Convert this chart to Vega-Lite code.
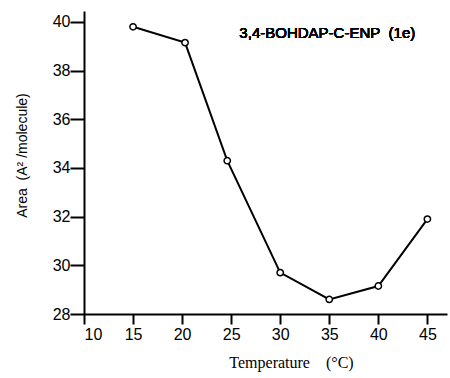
{
  "$schema": "https://vega.github.io/schema/vega-lite/v6.json",
  "width": 363,
  "height": 303,
  "autosize": {"type": "none"},
  "padding": {"left": 84, "top": 11, "right": 3, "bottom": 64},
  "background": "white",
  "config": {
    "view": {"stroke": null},
    "axis": {
      "grid": false,
      "domainColor": "black",
      "domainWidth": 2,
      "tickColor": "black",
      "tickWidth": 2,
      "labelColor": "black",
      "labelFont": "Liberation Sans",
      "labelFontSize": 16,
      "titleColor": "black"
    }
  },
  "data": {
    "values": [
      {"temp": 15, "area": 39.8},
      {"temp": 20.3, "area": 39.15},
      {"temp": 24.6, "area": 34.3},
      {"temp": 30, "area": 29.7},
      {"temp": 35, "area": 28.6},
      {"temp": 40, "area": 29.15},
      {"temp": 45, "area": 31.9}
    ]
  },
  "encoding": {
    "x": {
      "field": "temp",
      "type": "quantitative",
      "scale": {"domain": [10, 47], "nice": false, "zero": false},
      "axis": {
        "values": [10, 15, 20, 25, 30, 35, 40, 45],
        "tickSize": 10,
        "labelPadding": 2,
        "title": "Temperature\u00a0\u00a0\u00a0\u00a0(°C)",
        "titleFont": "Liberation Serif",
        "titleFontSize": 16,
        "titleFontWeight": "normal",
        "titleX": 207,
        "titleY": 48,
        "titleBaseline": "middle",
        "titleAnchor": "middle"
      }
    },
    "y": {
      "field": "area",
      "type": "quantitative",
      "scale": {"domain": [28, 40.45], "nice": false, "zero": false},
      "axis": {
        "values": [28, 30, 32, 34, 36, 38, 40],
        "tickSize": 14,
        "labelPadding": 0,
        "title": "Area\u00a0\u00a0(A² /molecule)",
        "titleFont": "Liberation Sans",
        "titleFontSize": 14,
        "titleFontWeight": "normal",
        "titleX": -62,
        "titleY": 144,
        "titleBaseline": "middle",
        "titleAnchor": "middle"
      }
    }
  },
  "layer": [
    {
      "mark": {"type": "line", "color": "black", "strokeWidth": 2}
    },
    {
      "mark": {"type": "point", "shape": "circle", "filled": true, "fill": "white", "stroke": "black", "strokeWidth": 1.5, "size": 40, "opacity": 1}
    },
    {
      "mark": {"type": "text", "text": "3,4-BOHDAP-C-ENP\u00a0\u00a0(1e)", "font": "Liberation Sans", "fontSize": 15, "fontWeight": "normal", "color": "black", "align": "center", "baseline": "middle"},
      "encoding": {
        "x": {"datum": 34.8, "type": "quantitative"},
        "y": {"datum": 39.55, "type": "quantitative"}
      }
    }
  ]
}
